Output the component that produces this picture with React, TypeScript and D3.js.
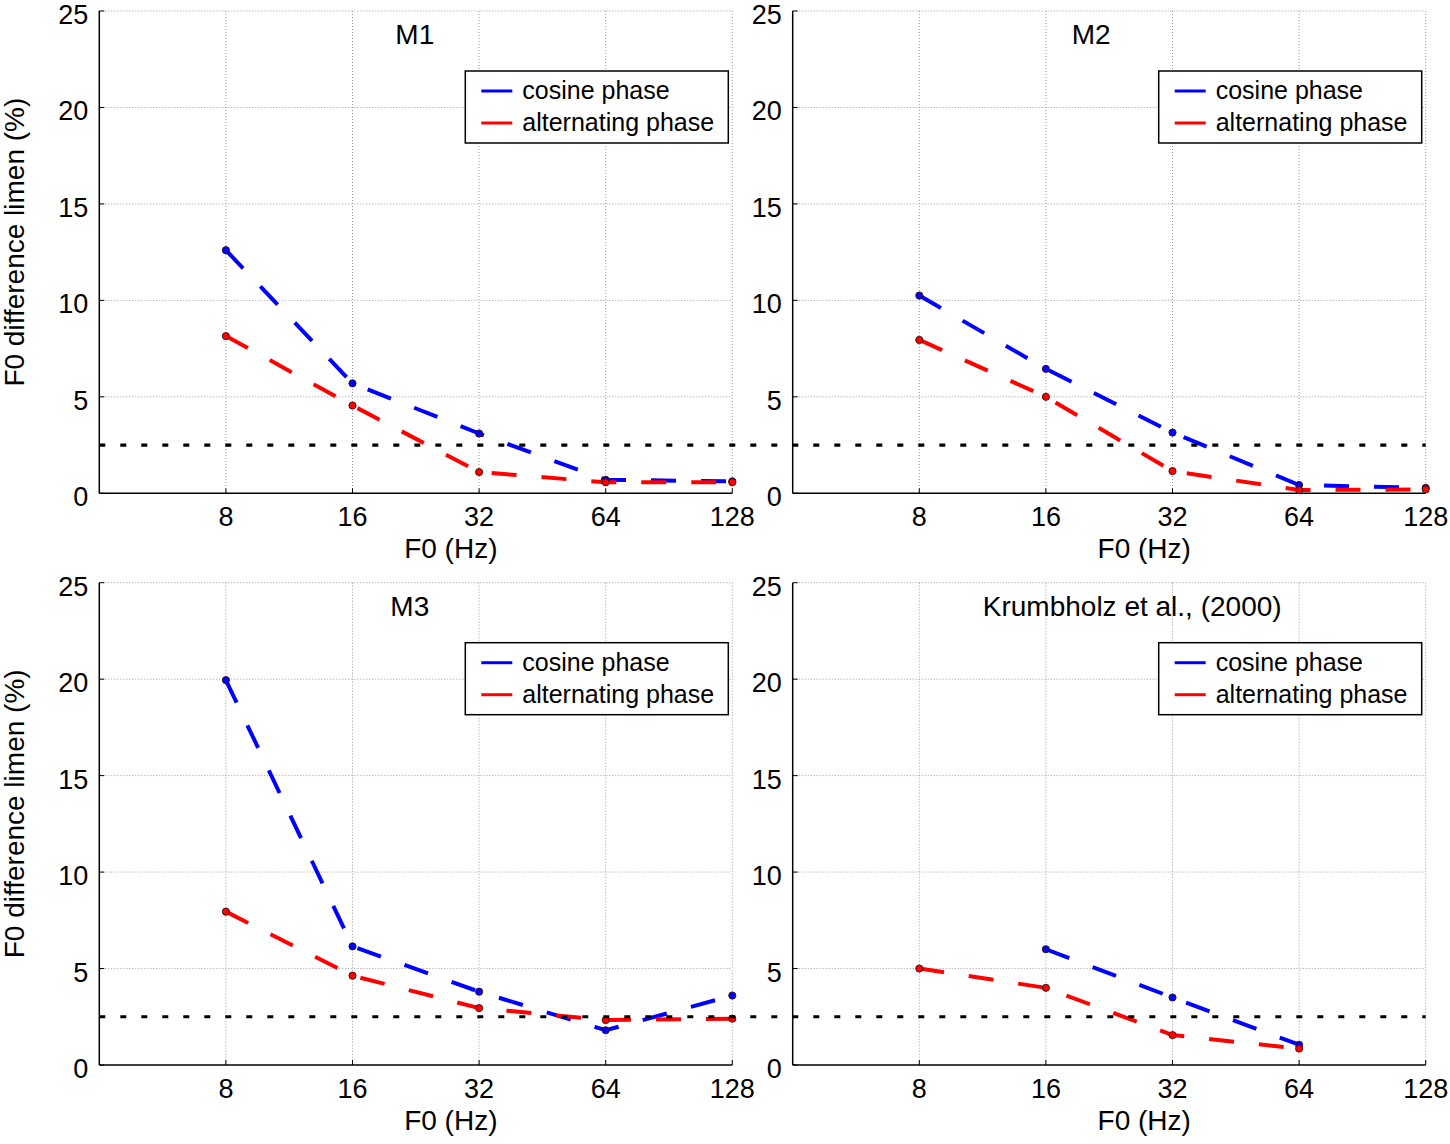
import * as d3 from "d3";

// ── Data — F0 difference limens (%) per listener ──────────────
const F0 = [8, 16, 32, 64, 128];
const Y_TICKS = [0, 5, 10, 15, 20, 25];
const THRESHOLD = 2.5;
const SERIES_NAMES = ["cosine phase", "alternating phase"];
const TITLES = ["M1", "M2", "M3", "Krumbholz et al., (2000)"];

const M1_COS = [12.6, 5.7, 3.1, 0.7, 0.62];
const M1_ALT = [8.15, 4.55, 1.1, 0.57, 0.57];
const M2_COS = [10.25, 6.45, 3.15, 0.43, 0.28];
const M2_ALT = [7.95, 5.0, 1.15, 0.17, 0.2];
const M3_COS = [19.95, 6.15, 3.8, 1.8, 3.6];
const M3_ALT = [7.95, 4.63, 2.95, 2.33, 2.4];
const KR_COS: (number | null)[] = [null, 6.0, 3.5, 1.05, null];
const KR_ALT: (number | null)[] = [5.0, 4.0, 1.55, 0.85, null];

const COS_DATA = [M1_COS, M2_COS, M3_COS, KR_COS];
const ALT_DATA = [M1_ALT, M2_ALT, M3_ALT, KR_ALT];

// ── Geometry ──────────────────────────────────────────────────
const W = 1450;
const H = 1144;
const COL_LEFT = [99.3, 792.7];
const ROW_TOP = [11, 582.7];
const PW = 633;
const PH = 482.3;
const TITLE_DX = [-1, -18, -6, 23];
const COLORS = ["#0000ff", "#ff0000"];
const FONT = "Arial, 'Liberation Sans', Helvetica, sans-serif";

function Panel({ idx }: { idx: number }) {
  const col = idx % 2;
  const row = Math.floor(idx / 2);
  const left = COL_LEFT[col];
  const top = ROW_TOP[row];
  const right = left + PW;
  const bottom = top + PH;

  const x = d3.scaleLog().base(2).domain([4, 128]).range([left, right]);
  const y = d3.scaleLinear().domain([0, 25]).range([bottom, top]);

  const line = d3
    .line<number | null>()
    .defined((d) => d !== null)
    .x((_, i) => x(F0[i]))
    .y((d) => y(d as number));

  const series = [COS_DATA[idx], ALT_DATA[idx]];
  const cx = (left + right) / 2;

  // legend box, anchored to the upper right of the axes
  const lw = 263;
  const lh = 72;
  const lx = right - 4 - lw;
  const ly = top + 60;

  return (
    <g>
      {/* Grid */}
      {Y_TICKS.filter((t) => t > 0).map((t) => (
        <line key={`gy${t}`} x1={left} x2={right} y1={y(t)} y2={y(t)}
          stroke="#9a9a9a" strokeWidth={1} strokeDasharray="1 2" />
      ))}
      {F0.map((f) => (
        <line key={`gx${f}`} x1={x(f)} x2={x(f)} y1={top} y2={bottom}
          stroke="#9a9a9a" strokeWidth={1} strokeDasharray="1 2" />
      ))}

      {/* Axes */}
      <line x1={left} x2={left} y1={top} y2={bottom} stroke="#000" strokeWidth={1.5} />
      <line x1={left} x2={right} y1={bottom} y2={bottom} stroke="#000" strokeWidth={1.5} />
      {Y_TICKS.map((t) => (
        <line key={`ty${t}`} x1={left} x2={left + 5} y1={y(t)} y2={y(t)} stroke="#000" strokeWidth={1} />
      ))}
      {F0.map((f) => (
        <line key={`tx${f}`} x1={x(f)} x2={x(f)} y1={bottom} y2={bottom - 5} stroke="#000" strokeWidth={1} />
      ))}

      {/* Tick labels */}
      {Y_TICKS.map((t) => (
        <text key={`ly${t}`} x={left - 11} y={y(t) + 4} textAnchor="end"
          dominantBaseline="central" fontSize={27} fontFamily={FONT} fill="#000">
          {t}
        </text>
      ))}
      {F0.map((f) => (
        <text key={`lx${f}`} x={x(f)} y={bottom + 33} textAnchor="middle"
          fontSize={27} fontFamily={FONT} fill="#000">
          {f}
        </text>
      ))}

      {/* Axis labels */}
      <text x={cx + 35} y={bottom + 65} textAnchor="middle" fontSize={28} fontFamily={FONT}>
        F0 (Hz)
      </text>
      {col === 0 && (
        <text transform={`translate(24,${(top + bottom) / 2 - 10}) rotate(-90)`}
          textAnchor="middle" fontSize={28} fontFamily={FONT}>
          F0 difference limen (%)
        </text>
      )}

      {/* Title */}
      <text x={cx + TITLE_DX[idx]} y={top + 33} textAnchor="middle" fontSize={28} fontFamily={FONT}>
        {TITLES[idx]}
      </text>

      {/* Data lines */}
      {series.map((s, si) => (
        <path key={`s${si}`} d={line(s) ?? ""} fill="none" stroke={COLORS[si]}
          strokeWidth={4} strokeDasharray="25 25" />
      ))}
      {series.map((s, si) =>
        s.map((v, i) =>
          v === null ? null : (
            <circle key={`m${si}-${i}`} cx={x(F0[i])} cy={y(v)} r={3.6}
              fill={COLORS[si]} stroke="#331111" strokeWidth={0.9} />
          )
        )
      )}

      {/* Legend */}
      <rect x={lx} y={ly} width={lw} height={lh} fill="#fff" stroke="#000" strokeWidth={1.5} />
      {SERIES_NAMES.map((n, si) => (
        <g key={n}>
          <line x1={lx + 16} x2={lx + 47} y1={ly + 20 + si * 32} y2={ly + 20 + si * 32}
            stroke={COLORS[si]} strokeWidth={3} />
          <text x={lx + 57} y={ly + 19 + si * 32} dominantBaseline="central"
            fontSize={25} fontFamily={FONT}>
            {n}
          </text>
        </g>
      ))}
    </g>
  );
}

export default function App() {
  const yTop = d3.scaleLinear().domain([0, 25]).range([ROW_TOP[0] + PH, ROW_TOP[0]]);
  const yBot = d3.scaleLinear().domain([0, 25]).range([ROW_TOP[1] + PH, ROW_TOP[1]]);
  return (
    <div style={{ position: "absolute", left: 0, top: 0, background: "#fff" }}>
      <svg width={W} height={H} viewBox={`0 0 ${W} ${H}`} style={{ display: "block" }}>
        <rect width={W} height={H} fill="#fff" />
        {[0, 1, 2, 3].map((i) => (
          <Panel key={i} idx={i} />
        ))}
        {/* 2.5 % reference line across each row */}
        {[yTop, yBot].map((y, r) => (
          <line key={`th${r}`} x1={COL_LEFT[0]} x2={COL_LEFT[1] + PW}
            y1={y(THRESHOLD)} y2={y(THRESHOLD)} stroke="#000" strokeWidth={3.2}
            strokeDasharray="6 15" />
        ))}
      </svg>
    </div>
  );
}
